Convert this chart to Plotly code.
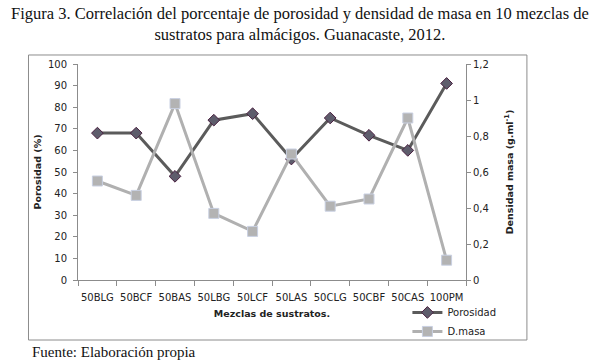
import plotly.graph_objects as go

categorias = ["50BLG", "50BCF", "50BAS", "50LBG", "50LCF", "50LAS", "50CLG", "50CBF", "50CAS", "100PM"]
porosidad = [68, 68, 48, 74, 77, 56, 75, 67, 60, 91]
densidad_masa = [0.55, 0.47, 0.98, 0.37, 0.27, 0.70, 0.41, 0.45, 0.90, 0.11]

titulo = "Figura 3. Correlación del porcentaje de porosidad y densidad de masa en 10 mezclas de<br>sustratos para almácigos. Guanacaste, 2012."
fuente = "Fuente: Elaboración propia"

FONT = "DejaVu Sans"
SERIF = "Liberation Serif"
AXC = "#8c8c8c"

fig = go.Figure()
fig.add_trace(go.Scatter(
    x=categorias, y=porosidad, name="Porosidad", mode="lines+markers",
    line=dict(color="#5b5b5b", width=3),
    marker=dict(symbol="diamond", size=9, color="#5e5d6c", line=dict(color="#4a2040", width=1)),
))
fig.add_trace(go.Scatter(
    x=categorias, y=densidad_masa, name="D.masa", mode="lines+markers", yaxis="y2",
    line=dict(color="#b0b0b0", width=3),
    marker=dict(symbol="square", size=10, color="#b3b3b3", line=dict(color="#c9d0e2", width=1)),
))

fig.update_layout(
    width=601, height=362,
    margin=dict(l=78, r=135, t=64, b=82),
    paper_bgcolor="white", plot_bgcolor="white",
    separators=", ",
    font=dict(family=FONT, size=10, color="#222222"),
    showlegend=True,
    legend=dict(x=0.849, y=-0.083, xanchor="left", yanchor="top",
                font=dict(family=FONT, size=10, color="#222222"),
                bgcolor="rgba(0,0,0,0)", itemwidth=30, tracegroupgap=0),
    xaxis=dict(
        type="category", range=[-0.5, 9.5], showgrid=False, zeroline=False,
        showline=True, linecolor=AXC, linewidth=1,
        ticks="outside", tickson="boundaries", ticklen=5, tickcolor=AXC,
        tickangle=0, ticklabelstandoff=8,
        tickfont=dict(family=FONT, size=10, color="#222222"),
        title=dict(text="<b>Mezclas de sustratos.</b>", font=dict(family=FONT, size=9.5, color="#222222"), standoff=8),
    ),
    yaxis=dict(
        range=[0, 100], dtick=10, showgrid=False, zeroline=False,
        showline=True, linecolor=AXC, linewidth=1,
        ticks="outside", ticklen=4, tickcolor=AXC, ticklabelstandoff=4,
        tickfont=dict(family=FONT, size=10, color="#222222"),
        title=dict(text="<b>Porosidad (%)</b>", font=dict(family=FONT, size=9.5, color="#222222"), standoff=4),
    ),
    yaxis2=dict(
        range=[0, 1.2], dtick=0.2, overlaying="y", side="right", showgrid=False, zeroline=False,
        showline=True, linecolor=AXC, linewidth=1,
        ticks="outside", ticklen=4, tickcolor=AXC,
        tickfont=dict(family=FONT, size=10, color="#222222"),
        title=dict(text="<b>Densidad masa (g.ml<sup>-1</sup>)</b>", font=dict(family=FONT, size=9.5, color="#222222"), standoff=18),
    ),
)

# outer border of chart area
fig.add_shape(type="rect", xref="paper", yref="paper",
              x0=-0.1276, x1=1.157, y0=-0.2778, y1=1.0417,
              line=dict(color="#8c8c8c", width=1), fillcolor="rgba(0,0,0,0)", layer="below")

fig.add_annotation(text=titulo, xref="paper", yref="paper", x=(300-78)/388, y=(280-2)/216,
                   xanchor="center", yanchor="top", showarrow=False, align="center",
                   font=dict(family=SERIF, size=16.5, color="#111111"))
fig.add_annotation(text=fuente, xref="paper", yref="paper", x=(30-78)/388, y=(280-342)/216,
                   xanchor="left", yanchor="top", showarrow=False, align="left",
                   font=dict(family=SERIF, size=15, color="#111111"))

fig.write_html("out.html", config={"displayModeBar": False},
               post_script="document.body.style.margin='0';")
